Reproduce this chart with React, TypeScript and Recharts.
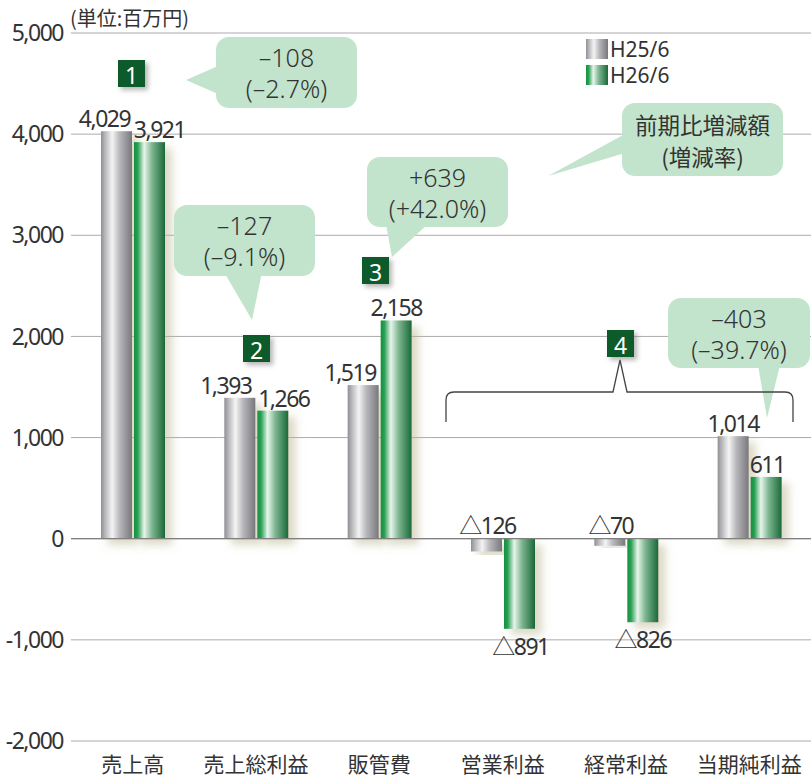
import React from 'react';
import { BarChart, Bar, XAxis, YAxis, CartesianGrid, ReferenceLine, LabelList } from 'recharts';

const categories = ['売上高', '売上総利益', '販管費', '営業利益', '経常利益', '当期純利益'];
const h25Values = [4029, 1393, 1519, -126, -70, 1014];
const h26Values = [3921, 1266, 2158, -891, -826, 611];
const yTicks = [-2000, -1000, 0, 1000, 2000, 3000, 4000, 5000];
const seriesNames = ['H25/6', 'H26/6'];
const unitLabel = '(単位:百万円)';

const data = categories.map((name, i) => ({ name, h25: h25Values[i], h26: h26Values[i] }));

// label horizontal nudges (style)
const labelDx: number[][] = [
  [-12, -14, -13, 1, 1, 0],
  [10, 11, 0, 1, 0, 1],
];

const NUM_FONT = '"Noto Sans", "Noto Sans CJK JP", sans-serif';
const JP_FONT = '"Noto Sans CJK JP", "Noto Sans", sans-serif';
const TXT = '#333';

const fmt = (v: number) => (v < 0 ? '△' + Math.abs(v).toLocaleString('en-US') : v.toLocaleString('en-US'));

const BarShape = (series: number) => (props: any) => {
  let { x, y, width, height } = props;
  if (height < 0) {
    y = y + height;
    height = -height;
  }
  if (!height) return null;
  return (
    <rect x={x} y={y} width={width} height={height}
      fill={series === 0 ? 'url(#gGray)' : 'url(#gGreen)'} filter="url(#barShadow)" />
  );
};

const makeLabel = (series: number) => (props: any) => {
  const vb = props.viewBox || props;
  let x = vb.x ?? props.x;
  let y = vb.y ?? props.y;
  let width = vb.width ?? props.width;
  let height = vb.height ?? props.height;
  const value = props.value as number;
  const index = props.index as number;
  if (height < 0) {
    y = y + height;
    height = -height;
  }
  const top = y;
  const bottom = y + height;
  const cx = x + width / 2 + (labelDx[series][index] || 0);
  let ty: number;
  if (value >= 0) ty = top - 4;
  else if (series === 0) ty = top - 5;
  else ty = bottom + 26;
  return (
    <text x={cx} y={ty} textAnchor="middle" fontSize={23} letterSpacing={-1.5}
      fontFamily={NUM_FONT} fill={TXT}>{fmt(value)}</text>
  );
};

const GradStops = ({ series }: { series: number }) =>
  series === 0 ? (
    <>
      <stop offset="0%" stopColor="#8e8e94" />
      <stop offset="12%" stopColor="#b4b4b8" />
      <stop offset="36%" stopColor="#f4f4f4" />
      <stop offset="60%" stopColor="#b8b8bc" />
      <stop offset="100%" stopColor="#77777d" />
    </>
  ) : (
    <>
      <stop offset="0%" stopColor="#13903f" />
      <stop offset="12%" stopColor="#2aa055" />
      <stop offset="33%" stopColor="#e8f5eb" />
      <stop offset="58%" stopColor="#7db691" />
      <stop offset="100%" stopColor="#1a6838" />
    </>
  );

const LegendBox = () => (
  <div style={{ position: 'absolute', left: 586, top: 36, fontFamily: NUM_FONT, fontSize: 21, color: TXT, lineHeight: '26px' }}>
    {seriesNames.map((n, i) => (
      <div key={n} style={{ display: 'flex', alignItems: 'center', height: 26 }}>
        <svg width={22} height={20} style={{ marginRight: 2 }}>
          <defs>
            <linearGradient id={'lg' + i} x1="0" x2="1" y1="0" y2="0">
              <GradStops series={i} />
            </linearGradient>
          </defs>
          <rect x={0} y={0} width={22} height={20} fill={`url(#lg${i})`} />
        </svg>
        <span>{n}</span>
      </div>
    ))}
  </div>
);

const Bubble = ({ x, y, w, h, ptr, lines, fs = 25, lineGap = 31, jp = false }: any) => {
  const cx = x + w / 2;
  const cy = y + h / 2;
  return (
    <g>
      <polygon points={ptr.map((p: number[]) => p.join(',')).join(' ')} fill="#c2e3cc" />
      <rect x={x} y={y} width={w} height={h} rx={13} ry={13} fill="#c2e3cc" />
      {lines.map((t: string, i: number) => (
        <text key={i} x={cx} y={cy + (i - (lines.length - 1) / 2) * lineGap} textAnchor="middle"
          dominantBaseline="central" fontSize={fs} fontFamily={jp ? JP_FONT : NUM_FONT}
          fontWeight={jp ? 400 : 300} fill={TXT}>{t}</text>
      ))}
    </g>
  );
};

const NumBox = ({ x, y, n }: any) => (
  <g>
    <rect x={x} y={y} width={27} height={27} fill="#0b5a2b" filter="url(#boxShadow)" />
    <text x={x + 13.5} y={y + 14.5} textAnchor="middle" dominantBaseline="central" fontSize={23}
      fontFamily={NUM_FONT} fill="#fff">{n}</text>
  </g>
);

const Overlay = () => (
  <svg width={811} height={778} style={{ position: 'absolute', left: 0, top: 0, pointerEvents: 'none' }}>
    <defs>
      <filter id="boxShadow" x="-30%" y="-30%" width="180%" height="180%">
        <feDropShadow dx="3" dy="3" stdDeviation="2.5" floodColor="#777" floodOpacity="0.55" />
      </filter>
    </defs>
    <text x={70} y={17} fontSize={20} fontFamily={JP_FONT} fill={TXT} dominantBaseline="central">{unitLabel}</text>
    <Bubble x={216} y={37} w={141} h={71} ptr={[[218, 66], [186, 80], [218, 94]]} lines={['–108', '(–2.7%)']} />
    <Bubble x={174} y={205} w={141} h={71} ptr={[[224, 272], [252, 320], [262, 272]]} lines={['–127', '(–9.1%)']} />
    <Bubble x={367} y={157} w={141} h={70} ptr={[[386, 224], [392, 257], [428, 224]]} lines={['+639', '(+42.0%)']} />
    <Bubble x={622} y={103} w={161} h={73} ptr={[[625, 134], [548, 176], [625, 153]]} lines={['前期比増減額', '(増減率)']} fs={22.5} lineGap={32} jp />
    <Bubble x={668} y={298} w={142} h={70} ptr={[[758, 365], [767, 418], [780, 365]]} lines={['–403', '(–39.7%)']} />
    <path d="M446,422 L446,400 Q446,392 454,392 L613,392 L620,360 L627,392 L785,392 Q793,392 793,400 L793,422"
      fill="none" stroke="#444" strokeWidth={1.3} />
    <NumBox x={118} y={60} n="1" />
    <NumBox x={243} y={335} n="2" />
    <NumBox x={362} y={257} n="3" />
    <NumBox x={607} y={330} n="4" />
  </svg>
);

export default function App() {
  return (
    <div style={{ position: 'absolute', left: 0, top: 0, width: 811, height: 778, background: '#fff' }}>
      <BarChart width={811} height={778} data={data} margin={{ top: 33, right: 0, bottom: 0, left: 0 }}
        barSize={31} barGap={2}>
        <defs>
          <linearGradient id="gGray" x1="0" x2="1" y1="0" y2="0">
            <GradStops series={0} />
          </linearGradient>
          <linearGradient id="gGreen" x1="0" x2="1" y1="0" y2="0">
            <GradStops series={1} />
          </linearGradient>
          <filter id="barShadow" x="-40%" y="-10%" width="200%" height="130%">
            <feDropShadow dx="7" dy="6" stdDeviation="4" floodColor="#b9b38c" floodOpacity="0.5" />
          </filter>
        </defs>
        <CartesianGrid vertical={false} stroke="#ababab" strokeWidth={1} />
        <XAxis dataKey="name" height={37} tickLine={false} axisLine={false} tickSize={0} tickMargin={16}
          interval={0} tick={{ fontSize: 21, fontFamily: JP_FONT, fill: TXT }} />
        <YAxis width={71} domain={[-2000, 5000]} ticks={yTicks} tickLine={false} axisLine={false}
          tickSize={0} tickMargin={8} interval={0}
          tickFormatter={(v: number) => v.toLocaleString('en-US')}
          tick={{ fontSize: 23, fontFamily: NUM_FONT, fill: TXT, letterSpacing: -1.5 }} />
        <ReferenceLine y={0} stroke="#7f7f7f" strokeWidth={1.2} />
        <Bar dataKey="h25" name={seriesNames[0]} isAnimationActive={false} shape={BarShape(0)}>
          <LabelList dataKey="h25" content={makeLabel(0)} />
        </Bar>
        <Bar dataKey="h26" name={seriesNames[1]} isAnimationActive={false} shape={BarShape(1)}>
          <LabelList dataKey="h26" content={makeLabel(1)} />
        </Bar>
      </BarChart>
      <Overlay />
      <LegendBox />
    </div>
  );
}
